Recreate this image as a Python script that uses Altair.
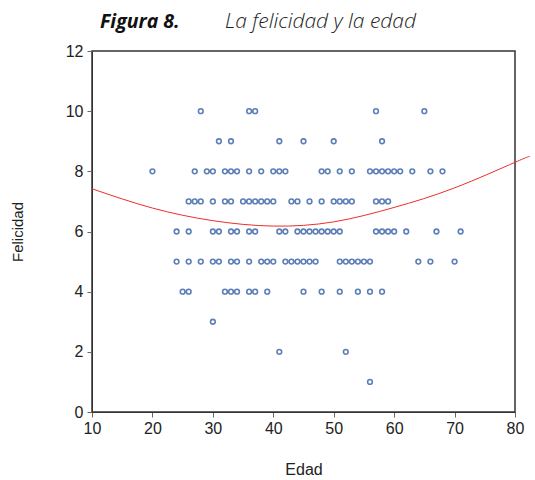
import altair as alt
import pandas as pd

# Happiness score (0-12) by age, one list per happiness level
edad_10 = [28, 36, 37, 57, 65]
edad_9 = [31, 33, 41, 45, 50, 58]
edad_8 = [20, 27, 29, 30, 32, 33, 34, 36, 38, 40, 41, 42, 48, 49, 51, 53,
          56, 57, 58, 59, 60, 61, 63, 66, 68]
edad_7 = [26, 27, 28, 30, 32, 33, 35, 36, 37, 38, 39, 40, 43, 44, 46, 48,
          50, 51, 52, 53, 57, 58, 59]
edad_6 = [24, 26, 30, 31, 33, 34, 36, 37, 41, 42, 44, 45, 46, 47, 48, 49,
          50, 51, 57, 58, 59, 60, 62, 67, 71]
edad_5 = [24, 26, 28, 30, 31, 33, 34, 36, 38, 39, 40, 42, 43, 44, 45, 46,
          47, 51, 52, 53, 54, 55, 56, 64, 66, 70]
edad_4 = [25, 26, 32, 33, 34, 36, 37, 39, 45, 48, 51, 54, 56, 58]
edad_3 = [30]
edad_2 = [41, 52]
edad_1 = [56]

groups = {10: edad_10, 9: edad_9, 8: edad_8, 7: edad_7, 6: edad_6,
          5: edad_5, 4: edad_4, 3: edad_3, 2: edad_2, 1: edad_1}

rows = [{"edad": a, "felicidad": f} for f, ages in groups.items() for a in ages]
df = pd.DataFrame(rows)

# Fitted quadratic trend (U-shape), sampled along the age axis
curva_edad = [10, 20, 30, 40, 50, 60, 70, 80, 82.5]
curva_felicidad = [7.42, 6.78, 6.36, 6.18, 6.32, 6.80, 7.45, 8.30, 8.50]
curve_df = pd.DataFrame({"edad": curva_edad, "felicidad": curva_felicidad})

x_ticks = [10, 20, 30, 40, 50, 60, 70, 80]
y_ticks = [0, 2, 4, 6, 8, 10, 12]

FONT = "Liberation Sans"

x_enc = alt.X(
    "edad:Q",
    scale=alt.Scale(domain=[10, 80], nice=False, zero=False),
    axis=alt.Axis(values=x_ticks, title="Edad", grid=False, tickSize=5,
                  labelPadding=3, titlePadding=25, labelFontSize=16,
                  titleFontSize=16, titleFontWeight="normal",
                  labelFont=FONT, titleFont=FONT, labelColor="#222",
                  titleColor="#222", domainColor="#333", tickColor="#666",
                  labelFlush=False),
)
y_enc = alt.Y(
    "felicidad:Q",
    scale=alt.Scale(domain=[0, 12], nice=False),
    axis=alt.Axis(values=y_ticks, title="Felicidad", grid=False, tickSize=5,
                  labelPadding=4, titlePadding=40, labelFontSize=16,
                  titleFontSize=15, titleFontWeight="normal",
                  labelFont=FONT, titleFont=FONT, labelColor="#222",
                  titleColor="#222", domainColor="#333", tickColor="#666",
                  labelFlush=False),
)

points = alt.Chart(df).mark_point(
    shape="circle", filled=False, size=22, strokeWidth=1.6, color="#1a4a9a"
).encode(x=x_enc, y=y_enc)

curve = alt.Chart(curve_df).mark_line(
    color="#e8302c", strokeWidth=1, clip=False, interpolate="natural"
).encode(x="edad:Q", y="felicidad:Q")

title_df = pd.DataFrame({"parte": ["Figura 8.", "La felicidad y la edad"]})
title_bold = alt.Chart(title_df).transform_filter(
    alt.datum.parte == "Figura 8."
).mark_text(
    font="Open Sans", fontSize=19.5, fontStyle="italic", fontWeight="bold",
    align="left", baseline="alphabetic", color="#111"
).encode(text="parte:N", x=alt.value(8), y=alt.value(-23))

title_rest = alt.Chart(title_df).transform_filter(
    alt.datum.parte != "Figura 8."
).mark_text(
    font="Open Sans", fontSize=21, fontStyle="italic", fontWeight=300,
    align="left", baseline="alphabetic", color="#222"
).encode(text="parte:N", x=alt.value(133), y=alt.value(-23))

chart = alt.layer(points, curve, title_bold, title_rest).properties(
    width=423,
    height=361,
    autosize=alt.AutoSizeParams(type="none"),
    padding={"left": 92, "top": 51, "right": 20, "bottom": 68},
    background="white",
).configure_view(stroke="#333", strokeWidth=1.5)

chart.save("out.html", embed_options={"renderer": "svg", "actions": False})
